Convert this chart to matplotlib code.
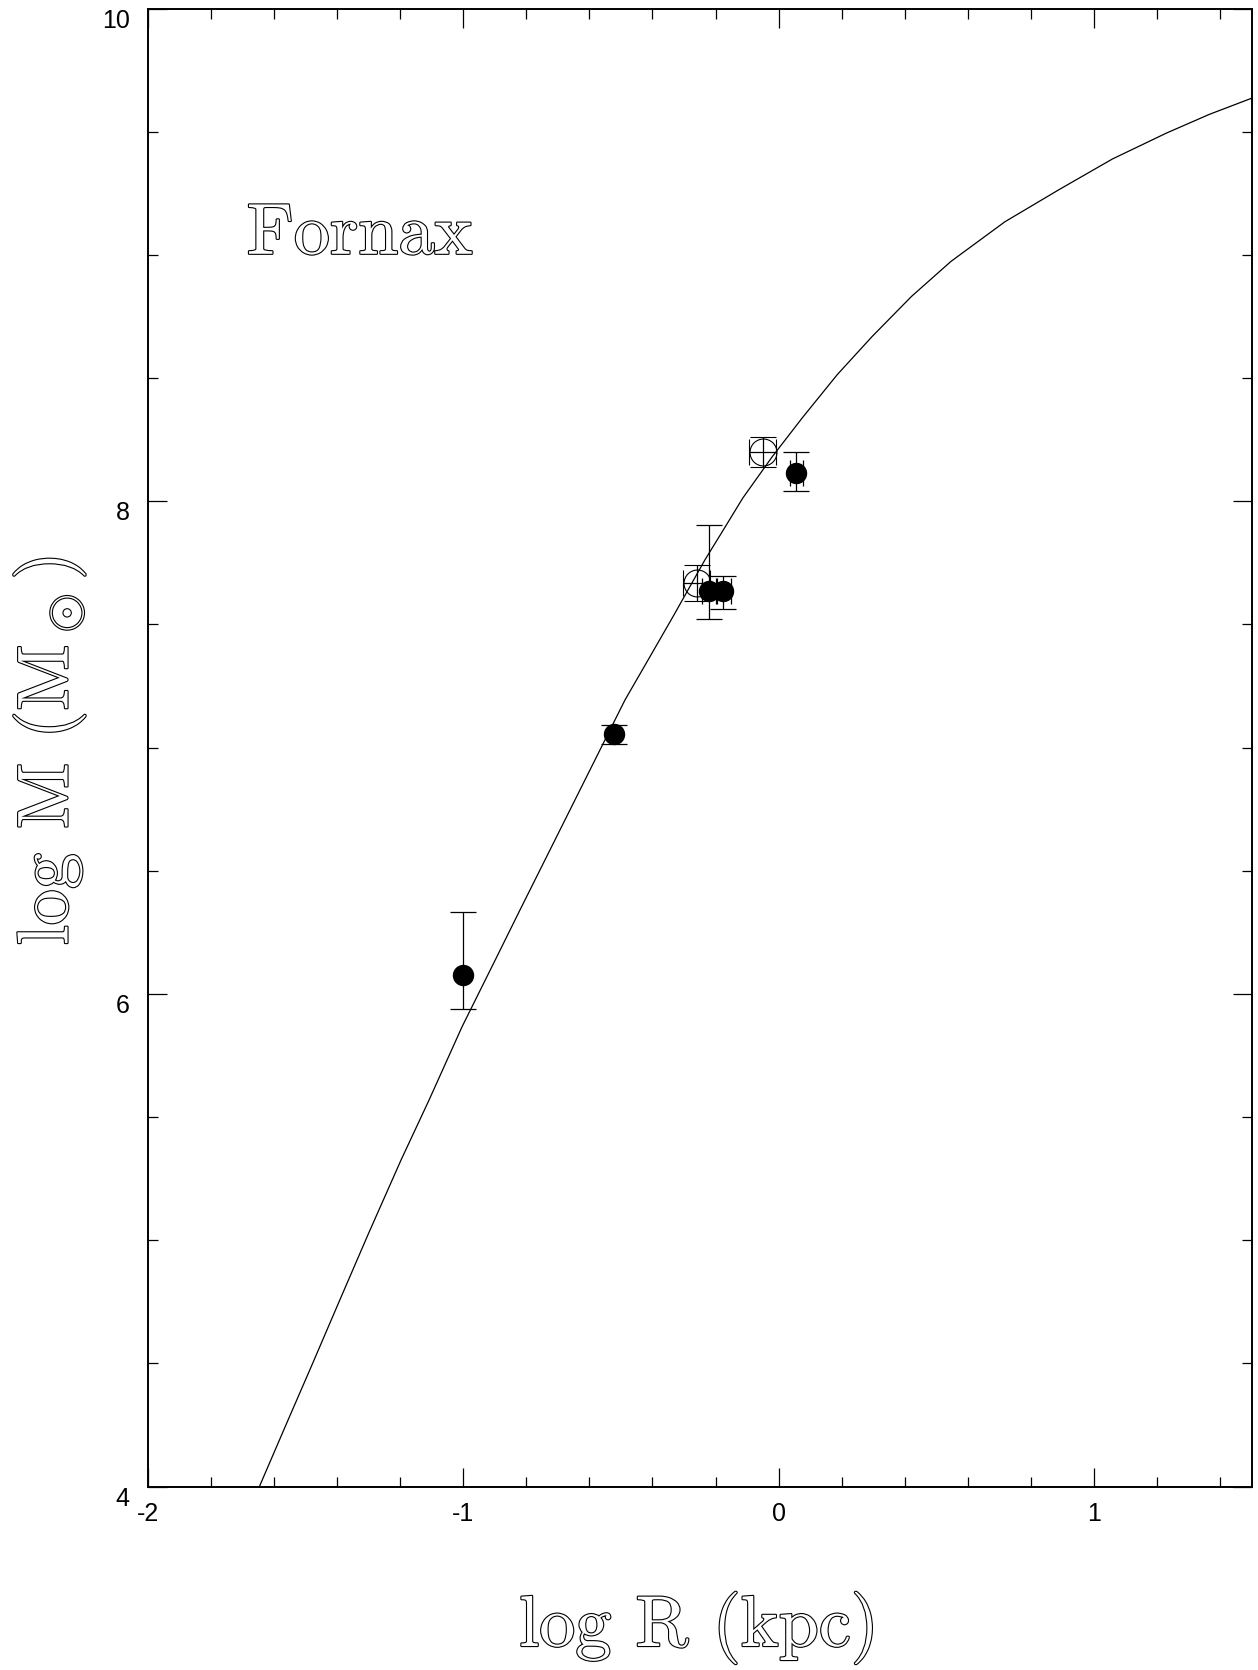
import matplotlib
matplotlib.use("Agg")
import matplotlib.pyplot as plt
import matplotlib.patheffects as pe
from matplotlib.ticker import MultipleLocator

# model curve
curve_x = [-1.646, -1.562, -1.477, -1.393, -1.3, -1.197, -1.108, -1.004, -0.9, -0.820,
           -0.717, -0.614, -0.55, -0.487, -0.41, -0.335, -0.234, -0.174, -0.114, -0.02,
           0.076, 0.186, 0.296, 0.421, 0.546, 0.717, 0.888, 1.058, 1.229, 1.365, 1.5]
curve_y = [4.0, 4.25, 4.501, 4.752, 5.028, 5.326, 5.57, 5.866, 6.134, 6.341,
           6.605, 6.869, 7.033, 7.194, 7.365, 7.532, 7.762, 7.887, 8.013, 8.182,
           8.341, 8.515, 8.669, 8.832, 8.974, 9.135, 9.265, 9.39, 9.495, 9.571, 9.637]

# filled points
filled_x = [-1.000, -0.522, -0.220, -0.176, 0.056]
filled_y = [6.078, 7.056, 7.634, 7.634, 8.114]
filled_yerr_lo = [0.140, 0.041, 0.110, 0.072, 0.071]
filled_yerr_hi = [0.254, 0.037, 0.271, 0.061, 0.086]
filled_xerr = [0.0, 0.0, 0.024, 0.024, 0.021]

# open points
open_x = [-0.260, -0.051]
open_y = [7.668, 8.202]
open_xerr = [0.042, 0.042]
open_yerr = [0.074, 0.061]

x_ticks = [-2, -1, 0, 1]
y_ticks = [4, 6, 8, 10]

plt.rcParams["mathtext.fontset"] = "cm"
plt.rcParams["axes.unicode_minus"] = False

fig = plt.figure(figsize=(12.58, 16.70), dpi=100)
ax = fig.add_axes([0.1174, 0.1098, 0.8778, 0.8850])

ax.plot(curve_x, curve_y, color="black", lw=0.9)

for i in range(len(filled_x)):
    xe = filled_xerr[i] if filled_xerr[i] > 0 else None
    ax.errorbar(filled_x[i], filled_y[i],
                yerr=[[filled_yerr_lo[i]], [filled_yerr_hi[i]]], xerr=xe,
                fmt="o", ms=14.4, mfc="black", mec="black",
                ecolor="black", elinewidth=0.9, capsize=9.6, capthick=0.9)

ax.errorbar(open_x, open_y, xerr=open_xerr, yerr=open_yerr,
            fmt="o", ms=19.4, mfc="none", mec="black", mew=0.8,
            ecolor="black", elinewidth=0.9, capsize=9.6, capthick=0.9)

ax.set_xlim(-2, 1.5)
ax.set_ylim(4, 10)
ax.set_xticks(x_ticks)
ax.set_yticks(y_ticks)
ax.xaxis.set_minor_locator(MultipleLocator(0.2))
ax.yaxis.set_minor_locator(MultipleLocator(0.5))
ax.tick_params(which="both", direction="in", top=True, right=True, width=0.9)
ax.tick_params(which="major", length=14)
ax.tick_params(which="minor", length=7)
ax.tick_params(axis="x", pad=11)
ax.tick_params(axis="y", pad=13)
for lbl in ax.get_xticklabels() + ax.get_yticklabels():
    lbl.set_fontfamily("Liberation Sans")
    lbl.set_fontsize(18)
for lbl in ax.get_yticklabels():
    lbl.set_va("top")
for s in ax.spines.values():
    s.set_linewidth(1.4)

hollow = [pe.Stroke(linewidth=1.6, foreground="black"), pe.Normal()]

ax.text(-1.686, 9.005, "Fornax", fontfamily="cmr10", fontsize=52,
        color="white", path_effects=hollow, ha="left", va="baseline")

fig.text(699 / 1258, 24 / 1670, "log R (kpc)", fontfamily="cmr10", fontsize=52,
         color="white", path_effects=hollow, ha="center", va="baseline")
fig.text(49 / 1258, (1670 - 751) / 1670, r"log M (M$_\odot$)", fontfamily="cmr10",
         fontsize=52, color="white", path_effects=hollow, rotation=90,
         ha="center", va="center")

fig.savefig("out.png", dpi=100)
